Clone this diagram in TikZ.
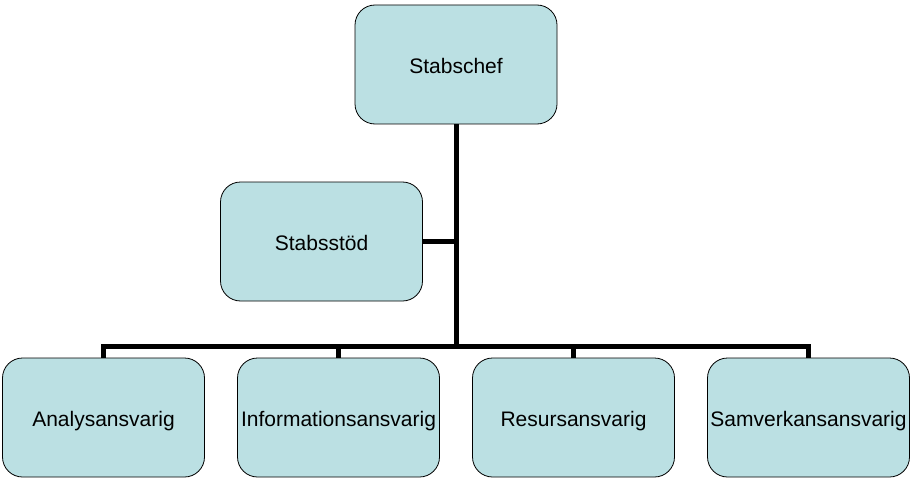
\documentclass[tikz,border=0pt]{standalone}
\usepackage{fontspec}
\setmainfont{Liberation Sans}
\definecolor{boxfill}{HTML}{BBE0E3}
\begin{document}
\begin{tikzpicture}[x=1pt,y=-1pt,
  orgbox/.style={draw=black, line width=0.8pt, fill=boxfill, rounded corners=20pt,
    minimum width=202pt, minimum height=119pt, inner sep=0pt,
    text height=17.5pt, text depth=0pt,
    font=\fontsize{21}{24}\selectfont},
  conn/.style={draw=black, line width=5pt, line join=miter}]
\useasboundingbox (0,0) rectangle (915,484);
\node[orgbox] (chef) at (456,64.5) {Stabschef};
\node[orgbox] (stod) at (321.5,241.5) {Stabsstöd};
\node[orgbox] (ana) at (103.5,417.5) {Analysansvarig};
\node[orgbox] (inf) at (338.5,417.5) {Informationsansvarig};
\node[orgbox] (res) at (573.5,417.5) {Resursansvarig};
\node[orgbox] (sam) at (808.5,417.5) {Samverkansansvarig};
\coordinate (bar) at (456,346.5);
\draw[conn] (chef.south) -- (chef.south |- bar);
\draw[conn] (stod.east) -- (stod.east -| chef.south);
\draw[conn] (ana.north) -- (ana.north |- bar) -- (sam.north |- bar) -- (sam.north);
\draw[conn] (inf.north) -- (inf.north |- bar);
\draw[conn] (res.north) -- (res.north |- bar);
\end{tikzpicture}
\end{document}
